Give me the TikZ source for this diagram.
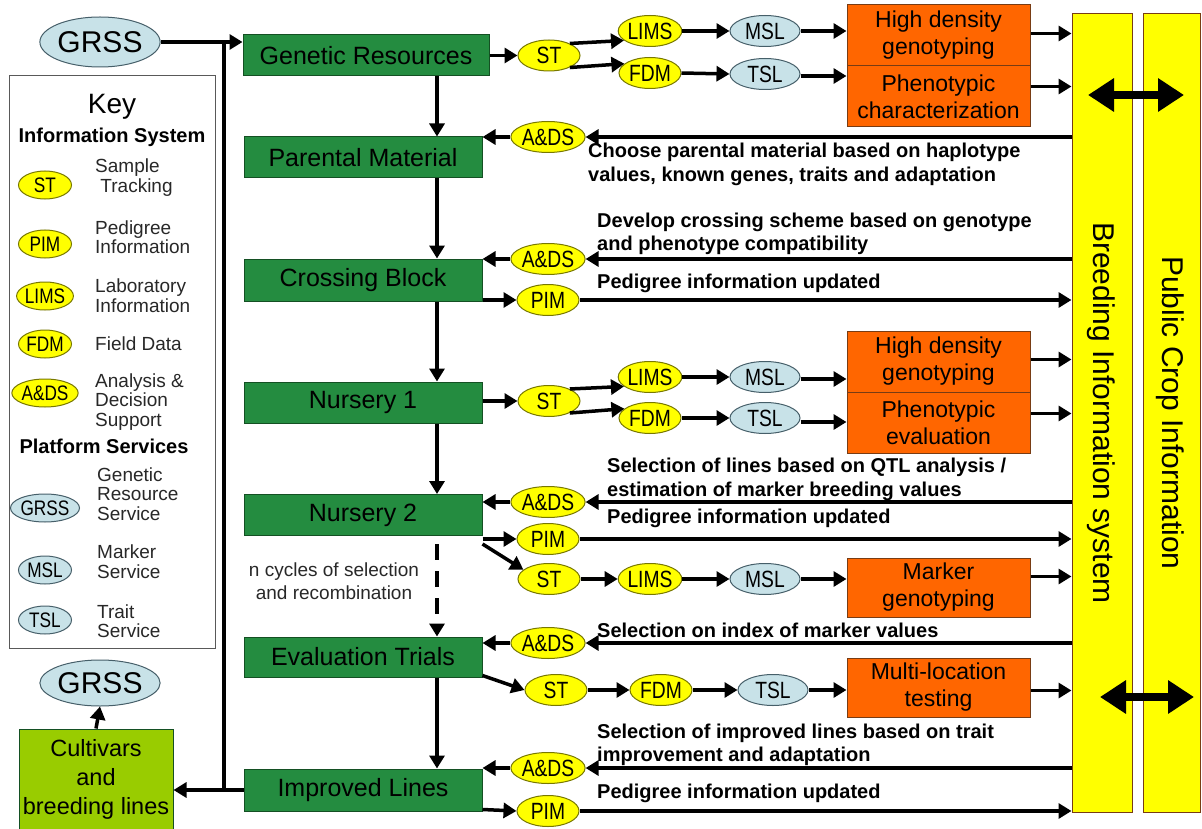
\documentclass[tikz,border=0pt]{standalone}
\usepackage{fontspec}
\setmainfont{Liberation Sans}
\usepackage{graphicx}
\usetikzlibrary{shapes.geometric,arrows.meta}
\definecolor{grn}{RGB}{36,140,64}
\definecolor{grnd}{RGB}{20,80,35}
\definecolor{ora}{RGB}{255,102,0}
\definecolor{orad}{RGB}{120,60,20}
\definecolor{yel}{RGB}{255,255,0}
\definecolor{yeld}{RGB}{120,120,0}
\definecolor{lblue}{RGB}{200,226,232}
\definecolor{lblued}{RGB}{70,95,105}
\definecolor{lime}{RGB}{153,204,0}
\definecolor{ktext}{RGB}{40,40,40}
\newcommand{\nar}[1]{\scalebox{0.82}[1]{#1}}
\tikzset{
  arr/.style={line width=3.5pt, -{Triangle[length=13pt,width=15pt]}},
  conn/.style={line width=3.5pt},
  dbl/.style={line width=8pt, {Triangle[length=26pt,width=32pt]}-{Triangle[length=26pt,width=32pt]}},
  ye/.style={ellipse, draw=yeld, fill=yel, line width=1pt, inner sep=0pt, minimum width=62pt, minimum height=31pt, font=\fontsize{23.5}{23.5}\selectfont},
  be/.style={ye, fill=lblue, draw=lblued, minimum width=70pt},
  ke/.style={ye, minimum width=53pt, minimum height=28pt, font=\fontsize{21}{21}\selectfont},
  kb/.style={ke, fill=lblue, draw=lblued},
  gbox/.style={rectangle, draw=grnd, fill=grn, line width=1pt, minimum width=238pt, minimum height=41pt, inner sep=0pt, font=\fontsize{25}{28}\selectfont},
  obox/.style={rectangle, draw=orad, fill=ora, line width=1pt, minimum width=183pt, inner sep=0pt, align=center, font=\fontsize{23}{27}\selectfont},
  dtxt/.style={anchor=west, align=left, inner sep=0pt, font=\fontsize{20}{23.5}\selectfont\bfseries},
  ktxt/.style={anchor=west, align=left, inner sep=0pt, font=\fontsize{19}{19.5}\selectfont, text=ktext},
  bar/.style={rectangle, draw=orad, fill=yel, line width=1pt, minimum height=798pt, inner sep=0pt, font=\fontsize{30}{30}\selectfont},
}
\begin{document}
\begin{tikzpicture}[x=1pt,y=-1pt]
\useasboundingbox (0,0) rectangle (1202,829);
\fill[white] (0,0) rectangle (1202,829);

% ---------- right bars ----------
\node[bar, minimum width=60pt] (bis) at (1102,413) {};
\node[bar, minimum width=57pt] (pci) at (1171.5,413) {};
\node[rotate=-90, font=\fontsize{30}{30}\selectfont] (bist) at (1101,413) {Breeding Information system};
\node[rotate=-90, font=\fontsize{30}{30}\selectfont] (pcit) at (1170,413) {Public Crop Information};
\coordinate (d1a) at (1088,95); \coordinate (d1b) at (1184,95);
\coordinate (d2a) at (1100,697); \coordinate (d2b) at (1194,697);
\draw[dbl] (d1a) -- (d1b);
\draw[dbl] (d2a) -- (d2b);

% ---------- key ----------
\node[draw=gray!70!black, line width=1pt, minimum width=206pt, minimum height=572pt, inner sep=0pt] (key) at (112,362) {};
\node[font=\fontsize{28}{28}\selectfont] (keyt) at (112,107) {Key};
\node[font=\fontsize{20}{20}\selectfont\bfseries] (keyis) at (112,137) {Information System};
\node[ke] (kst) at (45,185) {\nar{ST}};
\node[ktxt] (kstt) at (95,177.5) {Sample\\\ Tracking};
\node[ke] (kpim) at (45,244) {\nar{PIM}};
\node[ktxt] (kpimt) at (95,237) {Pedigree\\Information};
\node[ke] (klims) at (45,296) {\nar{LIMS}};
\node[ktxt] (klimst) at (95,295.5) {Laboratory\\Information};
\node[ke] (kfdm) at (45,344) {\nar{FDM}};
\node[ktxt] (kfdmt) at (95,344) {Field Data};
\node[ke] (kads) at (45,393) {\nar{A\&DS}};
\node[ktxt] (kadst) at (95,402) {Analysis \&\\Decision\\Support};
\node[font=\fontsize{20}{20}\selectfont\bfseries] (keyps) at (104,446) {Platform Services};
\node[kb] (kgrss) at (45,508) {\nar{GRSS}};
\node[ktxt] (kgrsst) at (97,494) {Genetic\\Resource\\Service};
\node[kb] (kmsl) at (45,570) {\nar{MSL}};
\node[ktxt] (kmslt) at (97,561.5) {Marker\\Service};
\node[kb] (ktsl) at (45,620) {\nar{TSL}};
\node[ktxt] (ktslt) at (97,621) {Trait\\Service};

% ---------- left column ----------
\node[be, minimum width=102pt, minimum height=50pt, font=\fontsize{30}{30}\selectfont] (grss1) at (100,42) {GRSS};
\node[be, minimum width=102pt, minimum height=46pt, font=\fontsize{30}{30}\selectfont] (grss2) at (100,683) {GRSS};
\node[rectangle, fill=lime, draw=grnd, line width=1pt, minimum width=154pt, minimum height=100pt, inner sep=0pt, align=center, font=\fontsize{23.5}{29}\selectfont] (cult) at (96,779) {Cultivars\\and\\breeding lines};

% ---------- green boxes ----------
\node[gbox, minimum width=246pt] (gr) at (366,55.5) {Genetic Resources};
\node[gbox] (pm) at (363,157.5) {Parental Material};
\node[gbox, minimum height=42pt] (cb) at (363,280) {Crossing Block};
\node[gbox] (n1) at (363,402.5) {Nursery 1};
\node[gbox] (n2) at (363,515) {Nursery 2};
\node[gbox, minimum height=40pt] (et) at (363,657) {Evaluation Trials};
\node[gbox, minimum height=42pt] (il) at (363,790) {Improved Lines};

\coordinate (colx) at (437,0);
\coordinate (busx) at (224,0);
\draw[arr] (gr.south -| colx) -- (pm.north -| colx);
\draw[arr] (pm.south -| colx) -- (cb.north -| colx);
\draw[arr] (cb.south -| colx) -- (n1.north -| colx);
\draw[arr] (n1.south -| colx) -- (n2.north -| colx);
\coordinate (dsh) at ([yshift=-8pt]n2.south -| colx);
\draw[line width=3.5pt, dash pattern=on 16pt off 11pt, -{Triangle[length=13pt,width=15pt]}] (dsh) -- (et.north -| colx);
\draw[arr] (et.south -| colx) -- (il.north -| colx);
\node[align=center, inner sep=0pt, font=\fontsize{19}{23}\selectfont, text=ktext] (ncyc) at (334,581.5) {n cycles of selection\\and recombination};

% bus
\draw[arr] (grss1.east) -- (grss1.east -| gr.west);
\draw[conn] (grss1.east -| busx) -- (il.west -| busx);
\draw[arr] (il.west) -- (il.west -| cult.east);
\draw[arr] (cult.north) -- (grss2.south);

% ---------- row 1 ----------
\node[ye] (st1) at (549,55.5) {\nar{ST}};
\node[ye] (lims1) at (650,31) {\nar{LIMS}};
\node[ye] (fdm1) at (650,73) {\nar{FDM}};
\node[be] (msl1) at (765,31) {\nar{MSL}};
\node[be] (tsl1) at (765,74) {\nar{TSL}};
\node[obox, minimum height=61pt] (hd1) at (938.5,35.5) {High density\\genotyping};
\node[obox, minimum height=61pt] (ph1) at (938.5,96.5) {Phenotypic\\characterization};
\draw[arr] (gr.east) -- (st1.west);
\draw[arr] (st1.30) -- (lims1.200);
\draw[arr] (st1.-30) -- (fdm1.160);
\draw[arr] (lims1.east) -- (msl1.west);
\draw[arr] (fdm1.east) -- (tsl1.west);
\draw[arr] (msl1.east) -- (msl1.east -| hd1.west);
\draw[arr] ([yshift=-2pt]tsl1.east) -- ([yshift=-2pt]tsl1.east -| ph1.west);
\draw[arr] ([yshift=2pt]hd1.east) -- ([yshift=2pt]hd1.east -| bis.west);
\draw[arr] ([yshift=10pt]ph1.east) -- ([yshift=10pt]ph1.east -| bis.west);

% ---------- row 2 ----------
\node[ye] (ads2) at (548,137) {\nar{A\&DS}};
\draw[arr] (bis.west |- ads2) -- (ads2.east);
\draw[arr] (ads2.west) -- (ads2.west -| pm.east);
\node[dtxt] (t2) at (588,164.5) {Choose parental material based on haplotype\\values, known genes, traits and adaptation};

% ---------- row 3 ----------
\node[dtxt] (t3a) at (597,234) {Develop crossing scheme based on genotype\\and phenotype compatibility};
\node[ye] (ads3) at (548,259) {\nar{A\&DS}};
\draw[arr] (bis.west |- ads3) -- (ads3.east);
\draw[arr] (ads3.west) -- (ads3.west -| cb.east);
\node[ye] (pim3) at (548,300) {\nar{PIM}};
\draw[arr] (cb.east |- pim3) -- (pim3.west);
\draw[arr] (pim3.east) -- (pim3.east -| bis.west);
\node[dtxt] (t3b) at (597,283) {Pedigree information updated};

% ---------- row 4 ----------
\node[ye] (st4) at (549,401) {\nar{ST}};
\node[ye] (lims4) at (650,377) {\nar{LIMS}};
\node[ye] (fdm4) at (650,418) {\nar{FDM}};
\node[be] (msl4) at (765,377) {\nar{MSL}};
\node[be] (tsl4) at (765,418) {\nar{TSL}};
\node[obox, minimum height=61pt] (hd4) at (938.5,361.5) {High density\\genotyping};
\node[obox, minimum height=61pt] (ev4) at (938.5,422.5) {Phenotypic\\evaluation};
\draw[arr] (n1.east |- st4) -- (st4.west);
\draw[arr] (st4.30) -- (lims4.200);
\draw[arr] (st4.-30) -- (fdm4.160);
\draw[arr] (lims4.east) -- (msl4.west);
\draw[arr] (fdm4.east) -- (tsl4.west);
\draw[arr] ([yshift=-2pt]msl4.east) -- ([yshift=-2pt]msl4.east -| hd4.west);
\draw[arr] ([yshift=-4pt]tsl4.east) -- ([yshift=-4pt]tsl4.east -| ev4.west);
\draw[arr] ([yshift=2pt]hd4.east) -- ([yshift=2pt]hd4.east -| bis.west);
\draw[arr] ([yshift=9pt]ev4.east) -- ([yshift=9pt]ev4.east -| bis.west);

% ---------- row 5 ----------
\node[dtxt] (t5a) at (607,479.5) {Selection of lines based on QTL analysis /\\estimation of marker breeding values};
\node[ye] (ads5) at (548,502) {\nar{A\&DS}};
\draw[arr] (bis.west |- ads5) -- (ads5.east);
\draw[arr] (ads5.west) -- (ads5.west -| n2.east);
\node[ye] (pim5) at (548,539) {\nar{PIM}};
\draw[arr] (n2.east |- pim5) -- (pim5.west);
\draw[arr] (pim5.east) -- (pim5.east -| bis.west);
\node[dtxt] (t5b) at (607,518) {Pedigree information updated};
\node[ye] (st5) at (549,579) {\nar{ST}};
\node[ye] (lims5) at (650,579) {\nar{LIMS}};
\node[be] (msl5) at (765,579) {\nar{MSL}};
\node[obox, minimum height=59pt] (mg5) at (938.5,587.5) {Marker\\genotyping};
\coordinate (n2d) at ([yshift=-8pt]n2.south east);
\draw[arr] (n2d) -- (st5.160);
\draw[arr] (st5.east) -- (lims5.west);
\draw[arr] (lims5.east) -- (msl5.west);
\draw[arr] (msl5.east) -- (msl5.east -| mg5.west);
\draw[arr] ([yshift=11pt]mg5.east) -- ([yshift=11pt]mg5.east -| bis.west);

% ---------- row 6 ----------
\node[dtxt] (t6) at (597,630) {Selection on index of marker values};
\node[ye] (ads6) at (548,643) {\nar{A\&DS}};
\draw[arr] (bis.west |- ads6) -- (ads6.east);
\draw[arr] (ads6.west) -- (ads6.west -| et.east);
\node[ye] (st6) at (556,690) {\nar{ST}};
\node[ye] (fdm6) at (661,690) {\nar{FDM}};
\node[be] (tsl6) at (773,690) {\nar{TSL}};
\node[obox, minimum height=59pt] (ml6) at (938.5,687.5) {Multi-location\\testing};
\coordinate (etd) at ([yshift=2pt]et.south east);
\draw[arr] (etd) -- (st6.west);
\draw[arr] (st6.east) -- (fdm6.west);
\draw[arr] (fdm6.east) -- (tsl6.west);
\draw[arr] (tsl6.east) -- (tsl6.east -| ml6.west);
\draw[arr] ([yshift=-3pt]ml6.east) -- ([yshift=-3pt]ml6.east -| bis.west);

% ---------- row 7 ----------
\node[dtxt] (t7a) at (597,745) {Selection of improved lines based on trait\\improvement and adaptation};
\node[ye] (ads7) at (548,768) {\nar{A\&DS}};
\draw[arr] (bis.west |- ads7) -- (ads7.east);
\draw[arr] (ads7.west) -- (ads7.west -| il.east);
\node[ye] (pim7) at (548,811) {\nar{PIM}};
\draw[arr] ([yshift=2pt]il.south east) -- (pim7.west);
\draw[arr] (pim7.east) -- (pim7.east -| bis.west);
\node[dtxt] (t7b) at (597,793) {Pedigree information updated};
\end{tikzpicture}
\end{document}
